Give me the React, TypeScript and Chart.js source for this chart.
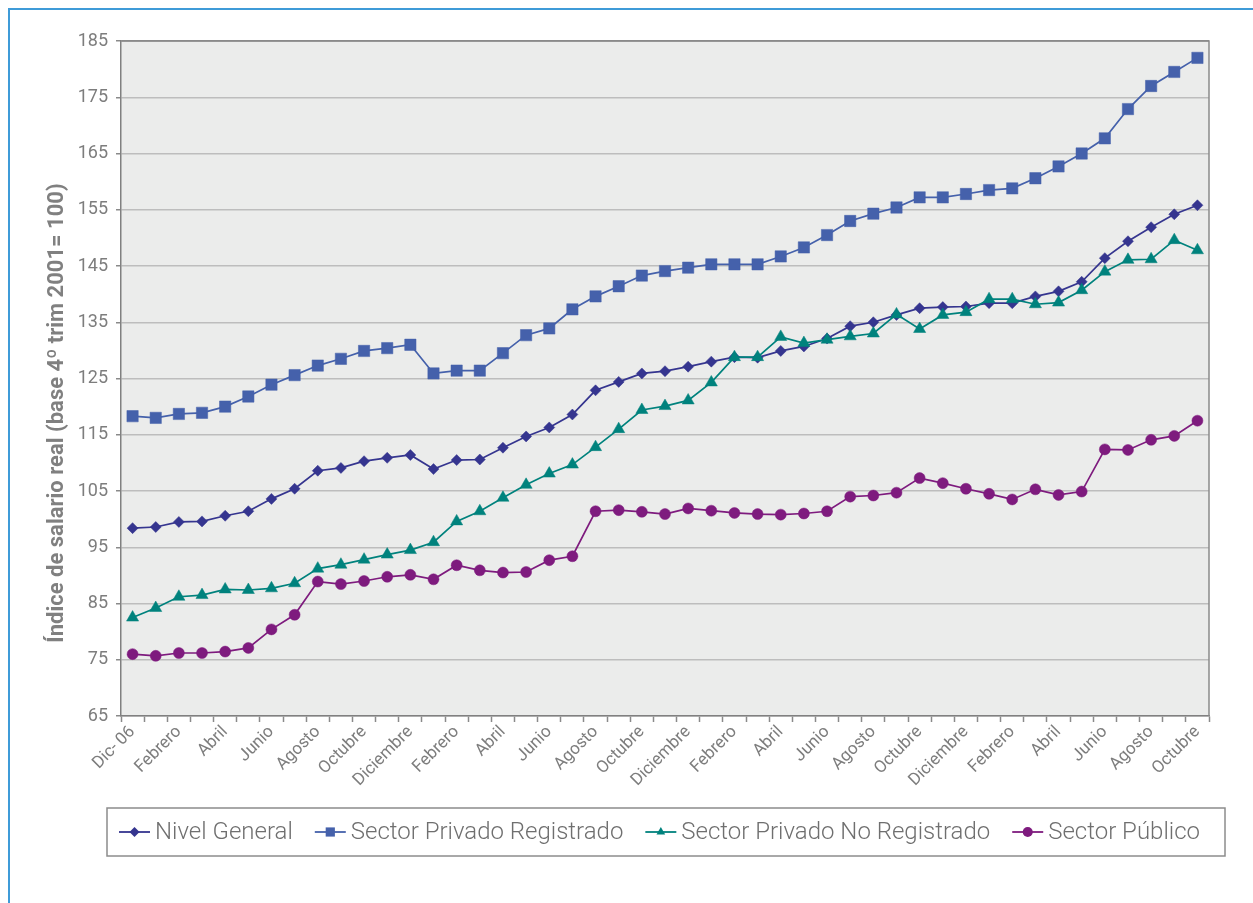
import React, { useEffect, useRef } from 'react';
import { Chart, registerables } from 'chart.js';

Chart.register(...registerables);

// 47 monthly categories: Dic-06 .. Octubre 2010 (labels shown every other month)
const months: string[] = [
  'Dic- 06',
  'Enero', 'Febrero', 'Marzo', 'Abril', 'Mayo', 'Junio', 'Julio', 'Agosto', 'Septiembre', 'Octubre', 'Noviembre', 'Diciembre',
  'Enero', 'Febrero', 'Marzo', 'Abril', 'Mayo', 'Junio', 'Julio', 'Agosto', 'Septiembre', 'Octubre', 'Noviembre', 'Diciembre',
  'Enero', 'Febrero', 'Marzo', 'Abril', 'Mayo', 'Junio', 'Julio', 'Agosto', 'Septiembre', 'Octubre', 'Noviembre', 'Diciembre',
  'Enero', 'Febrero', 'Marzo', 'Abril', 'Mayo', 'Junio', 'Julio', 'Agosto', 'Septiembre', 'Octubre',
];

const nivelGeneral: number[] = [
  98.4, 98.6, 99.5, 99.6, 100.6, 101.4, 103.6, 105.4, 108.6, 109.1, 110.3, 110.9, 111.4,
  108.9, 110.5, 110.6, 112.7, 114.7, 116.3, 118.6, 122.9, 124.4, 125.9, 126.3, 127.1,
  128.0, 128.8, 128.7, 129.9, 130.7, 132.1, 134.3, 135.0, 136.3, 137.5, 137.7, 137.8,
  138.4, 138.4, 139.6, 140.5, 142.2, 146.4, 149.4, 151.9, 154.2, 155.8,
];

const privadoRegistrado: number[] = [
  118.3, 118.0, 118.7, 118.9, 120.0, 121.8, 123.9, 125.6, 127.3, 128.5, 129.9, 130.4, 131.0,
  125.9, 126.4, 126.4, 129.5, 132.7, 133.9, 137.3, 139.6, 141.4, 143.3, 144.1, 144.7,
  145.3, 145.3, 145.3, 146.7, 148.3, 150.5, 153.0, 154.3, 155.4, 157.2, 157.2, 157.8,
  158.5, 158.8, 160.6, 162.7, 165.0, 167.7, 172.9, 177.0, 179.5, 182.0,
];

const privadoNoRegistrado: number[] = [
  82.5, 84.2, 86.2, 86.5, 87.5, 87.4, 87.7, 88.6, 91.2, 91.9, 92.8, 93.7, 94.5,
  95.9, 99.6, 101.4, 103.8, 106.1, 108.1, 109.7, 112.8, 116.0, 119.4, 120.1, 121.1,
  124.3, 128.8, 128.8, 132.4, 131.3, 131.9, 132.5, 133.0, 136.4, 133.8, 136.3, 136.8,
  139.1, 139.1, 138.2, 138.5, 140.7, 144.0, 146.1, 146.2, 149.6, 147.8,
];

const sectorPublico: number[] = [
  76.0, 75.7, 76.2, 76.2, 76.45, 77.1, 80.4, 83.0, 88.9, 88.45, 89.0, 89.75, 90.1,
  89.3, 91.8, 90.9, 90.5, 90.6, 92.7, 93.4, 101.4, 101.6, 101.3, 100.9, 101.9,
  101.5, 101.1, 100.9, 100.8, 101.0, 101.4, 104.0, 104.2, 104.7, 107.3, 106.4, 105.4,
  104.5, 103.5, 105.3, 104.3, 104.9, 112.4, 112.3, 114.1, 114.8, 117.5,
];

const seriesNames: string[] = ['Nivel General', 'Sector Privado Registrado', 'Sector Privado No Registrado', 'Sector Público'];
const seriesColors: string[] = ['#35358f', '#4561ab', '#00827d', '#7e1b7e'];
const seriesMarkers: string[] = ['rectRot', 'rect', 'triangle', 'circle'];
const markerRadius: number[] = [5.5, 8, 7, 5.5];

const yTitle = 'Índice de salario real (base 4º trim 2001= 100)';
const Y_MIN = 65;
const Y_MAX = 185;
const Y_STEP = 10;

const FONT = 'Roboto, "Liberation Sans", Arial, sans-serif';
const TEXT_GREY = '#7d7d7d';

function drawMarker(ctx: CanvasRenderingContext2D, style: string, x: number, y: number, r: number) {
  ctx.beginPath();
  if (style === 'circle') {
    ctx.arc(x, y, r, 0, Math.PI * 2);
  } else if (style === 'rect') {
    const s = Math.SQRT1_2 * r;
    ctx.rect(x - s, y - s, 2 * s, 2 * s);
  } else if (style === 'rectRot') {
    ctx.moveTo(x - r, y);
    ctx.lineTo(x, y - r);
    ctx.lineTo(x + r, y);
    ctx.lineTo(x, y + r);
    ctx.closePath();
  } else if (style === 'triangle') {
    ctx.moveTo(x, y - r);
    ctx.lineTo(x + Math.sin((2 * Math.PI) / 3) * r, y - Math.cos((2 * Math.PI) / 3) * r);
    ctx.lineTo(x + Math.sin((4 * Math.PI) / 3) * r, y - Math.cos((4 * Math.PI) / 3) * r);
    ctx.closePath();
  }
  ctx.fill();
}

const decorPlugin = {
  id: 'decor',
  beforeDraw(chart: any) {
    const { ctx, chartArea: a } = chart;
    ctx.save();
    ctx.fillStyle = '#ebeceb';
    ctx.fillRect(a.left, a.top, a.right - a.left, a.bottom - a.top);
    ctx.restore();
  },
  beforeDatasetsDraw(chart: any) {
    const { ctx, chartArea: a } = chart;
    ctx.save();
    ctx.strokeStyle = '#8a8a8a';
    ctx.lineWidth = 1.5;
    ctx.beginPath();
    ctx.moveTo(a.left, a.top);
    ctx.lineTo(a.right, a.top);
    ctx.lineTo(a.right, a.bottom);
    ctx.stroke();
    ctx.restore();
  },
  afterDraw(chart: any) {
    const { ctx } = chart;
    ctx.save();
    // y-axis title
    ctx.translate(57, 413);
    ctx.rotate(-Math.PI / 2);
    ctx.font = `bold 22px ${FONT}`;
    ctx.fillStyle = '#808080';
    ctx.textAlign = 'center';
    ctx.textBaseline = 'middle';
    ctx.fillText(yTitle, 0, 0);
    ctx.restore();

    // legend box
    const box = { left: 107, top: 808, right: 1225, bottom: 856 };
    ctx.save();
    ctx.strokeStyle = '#8c8c8c';
    ctx.lineWidth = 1.5;
    ctx.strokeRect(box.left, box.top, box.right - box.left, box.bottom - box.top);
    ctx.font = `300 24px ${FONT}`;
    ctx.textBaseline = 'middle';
    ctx.textAlign = 'left';
    const cy = (box.top + box.bottom) / 2;
    let x = box.left + 12;
    seriesNames.forEach((name, i) => {
      ctx.strokeStyle = seriesColors[i];
      ctx.fillStyle = seriesColors[i];
      ctx.lineWidth = 1.8;
      ctx.beginPath();
      ctx.moveTo(x, cy);
      ctx.lineTo(x + 31, cy);
      ctx.stroke();
      drawMarker(ctx, seriesMarkers[i], x + 15.5, cy, i === 1 ? 6.5 : 5);
      ctx.fillStyle = '#6f6f6f';
      ctx.fillText(name, x + 36, cy + 1);
      x += 36 + ctx.measureText(name).width + 22;
    });
    ctx.restore();
  },
};

export default function App() {
  const canvasRef = useRef<HTMLCanvasElement | null>(null);

  useEffect(() => {
    const canvas = canvasRef.current;
    if (!canvas) return;
    const datasetsData = [nivelGeneral, privadoRegistrado, privadoNoRegistrado, sectorPublico];
    const chart = new Chart(canvas, {
      type: 'line',
      data: {
        labels: months,
        datasets: datasetsData.map((d, i) => ({
          label: seriesNames[i],
          data: d,
          borderColor: seriesColors[i],
          backgroundColor: seriesColors[i],
          pointBackgroundColor: seriesColors[i],
          pointBorderColor: seriesColors[i],
          pointStyle: seriesMarkers[i] as any,
          pointRadius: markerRadius[i],
          pointBorderWidth: 0.5,
          borderWidth: 1.7,
          tension: 0,
          fill: false,
          order: 3 - i,
        })),
      },
      options: {
        responsive: false,
        animation: false,
        events: [],
        layout: { padding: { left: 0, top: 41, right: 44, bottom: 107 } },
        plugins: { legend: { display: false }, tooltip: { enabled: false }, title: { display: false } },
        scales: {
          x: {
            type: 'category',
            offset: true,
            grid: {
              offset: true,
              drawOnChartArea: false,
              drawTicks: true,
              tickLength: 6,
              tickColor: '#8a8a8a',
              tickWidth: 1.5,
            },
            border: { display: true, color: '#808080', width: 1.5 },
            ticks: {
              autoSkip: false,
              maxRotation: 45,
              minRotation: 45,
              color: TEXT_GREY,
              font: { family: FONT, size: 17 },
              padding: 0,
              callback: (_v: any, i: number) => (i % 2 === 0 ? months[i] : ''),
            },
            afterFit: (s: any) => {
              s.height = 80;
            },
          },
          y: {
            min: Y_MIN,
            max: Y_MAX,
            grid: {
              color: (c: any) => (c.tick && c.tick.value === Y_MAX ? '#8a8a8a' : '#bdbdbd'),
              lineWidth: 1.5,
              drawTicks: true,
              tickLength: 5,
              tickColor: '#8a8a8a',
            },
            border: { display: true, color: '#808080', width: 1.5 },
            ticks: {
              stepSize: Y_STEP,
              color: TEXT_GREY,
              font: { family: FONT, size: 18 },
              padding: 8,
            },
            afterFit: (s: any) => {
              s.width = 121;
            },
          },
        },
      },
      plugins: [decorPlugin],
    });
    return () => chart.destroy();
  }, []);

  return (
    <div>
      <div
        style={{
          position: 'absolute',
          left: 8,
          top: 8,
          width: 1260,
          height: 910,
          borderTop: '2px solid #3f9bd8',
          borderLeft: '2px solid #3f9bd8',
          boxSizing: 'border-box',
        }}
      />
      <canvas
        ref={canvasRef}
        width={1253}
        height={903}
        style={{ position: 'absolute', left: 0, top: 0, width: 1253, height: 903 }}
      />
    </div>
  );
}
